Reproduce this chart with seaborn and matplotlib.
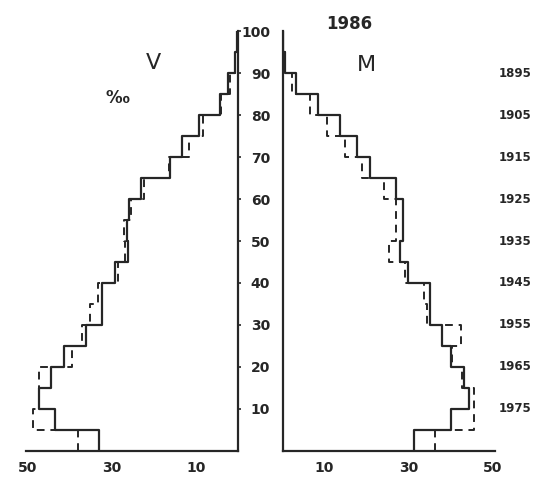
import matplotlib
matplotlib.use("Agg")
import matplotlib.pyplot as plt
import seaborn as sns
import pandas as pd

# age group starts (5-year groups), last entry closes the top step
ages = [0, 5, 10, 15, 20, 25, 30, 35, 40, 45, 50, 55, 60, 65, 70, 75, 80, 85, 90, 95, 100]

# per mille by age group, 0-4 ... 95-99
men_solid = [33.2, 43.5, 47.5, 44.5, 41.5, 36.2, 32.4, 32.4, 29.3, 26.1,
             26.5, 26.0, 23.1, 16.2, 13.3, 9.2, 4.3, 2.3, 0.6, 0.2]
men_dashed = [38.2, 48.7, 47.5, 47.5, 39.5, 37.2, 35.2, 33.3, 28.5, 26.9,
              27.1, 25.5, 22.4, 16.5, 11.6, 8.3, 4.0, 2.0, 0.6, 0.2]
women_solid = [31.2, 40.1, 44.3, 43.1, 40.1, 37.9, 35.0, 35.0, 29.8, 27.9,
               28.7, 28.7, 27.0, 20.9, 17.8, 13.7, 8.5, 3.2, 0.6, 0.2]
women_dashed = [36.3, 45.5, 45.5, 42.8, 40.3, 42.4, 34.3, 33.7, 29.1, 25.4,
                27.1, 27.1, 24.2, 18.9, 14.9, 10.7, 6.6, 2.2, 0.6, 0.2]

year_ticks = [90, 80, 70, 60, 50, 40, 30, 20, 10]
birth_years = ["1895", "1905", "1915", "1925", "1935", "1945", "1955", "1965", "1975"]

sns.set_style("white")
plt.rcParams["font.family"] = ["DejaVu Sans"]
ink = "#262626"

fig = plt.figure(figsize=(5.39, 4.78), dpi=100)
ax_v = fig.add_axes([25.9 / 539, 27 / 478, 212.1 / 539, 420 / 478])
ax_m = fig.add_axes([282.5 / 539, 27 / 478, 212.1 / 539, 420 / 478])


def draw_steps(ax, solid, dashed):
    df = pd.DataFrame({
        "age": ages + ages,
        "value": solid + [solid[-1]] + dashed + [dashed[-1]],
        "series": ["solid"] * len(ages) + ["dashed"] * len(ages),
    })
    sns.lineplot(data=df[df.series == "dashed"], x="value", y="age", orient="y",
                 drawstyle="steps-pre", color=ink, lw=1.4, linestyle=(0, (4, 3)),
                 ax=ax, legend=False)
    sns.lineplot(data=df[df.series == "solid"], x="value", y="age", orient="y",
                 drawstyle="steps-pre", color=ink, lw=1.6, ax=ax, legend=False)


draw_steps(ax_v, men_solid, men_dashed)
draw_steps(ax_m, women_solid, women_dashed)

tick_font = dict(fontsize=10, fontweight="bold", color=ink)

# left panel (V)
ax_v.set_xlim(50.5, 0)
ax_v.set_ylim(0, 100)
ax_v.spines["left"].set_visible(False)
ax_v.spines["top"].set_visible(False)
ax_v.set_xticks([10, 20, 30, 40, 50])
ax_v.set_xticklabels(["10", "", "30", "", "50"], **tick_font)
ax_v.yaxis.tick_right()
ax_v.set_yticks(range(10, 101, 10))
ax_v.set_yticklabels([])
ax_v.tick_params(axis="y", direction="out", length=2, width=1.2, colors=ink)

# right panel (M)
ax_m.set_xlim(0, 50.5)
ax_m.set_ylim(0, 100)
ax_m.spines["right"].set_visible(False)
ax_m.spines["top"].set_visible(False)
ax_m.set_xticks([10, 20, 30, 40, 50])
ax_m.set_xticklabels(["10", "", "30", "", "50"], **tick_font)
ax_m.set_yticks(range(10, 101, 10))
ax_m.set_yticklabels([str(v) for v in range(10, 101, 10)], **tick_font)
ax_m.tick_params(axis="y", direction="out", length=4, width=1.2, pad=5, colors=ink)

for ax in (ax_v, ax_m):
    ax.set_xlabel("")
    ax.set_ylabel("")
    ax.tick_params(axis="x", direction="out", length=3, width=1.2, pad=4, colors=ink)
    for side in ("left", "right", "bottom"):
        ax.spines[side].set_color(ink)
        ax.spines[side].set_linewidth(1.6)

# birth cohorts on the far right
for age, year in zip(year_ticks, birth_years):
    ax_m.text(1.097, age, year, transform=ax_m.get_yaxis_transform(),
              ha="center", va="center", fontsize=8.5, fontweight="bold", color=ink)

fig.text(349 / 539, 1 - 24 / 478, "1986", ha="center", va="center",
         fontsize=12, fontweight="bold", color=ink)
fig.text(153 / 539, 1 - 63 / 478, "V", ha="center", va="center", fontsize=16, color=ink)
fig.text(366 / 539, 1 - 65 / 478, "M", ha="center", va="center", fontsize=16, color=ink)
fig.text(117 / 539, 1 - 98 / 478, "‰", ha="center", va="center",
         fontsize=12, fontweight="bold", color=ink)

fig.savefig("out.png", dpi=100)
